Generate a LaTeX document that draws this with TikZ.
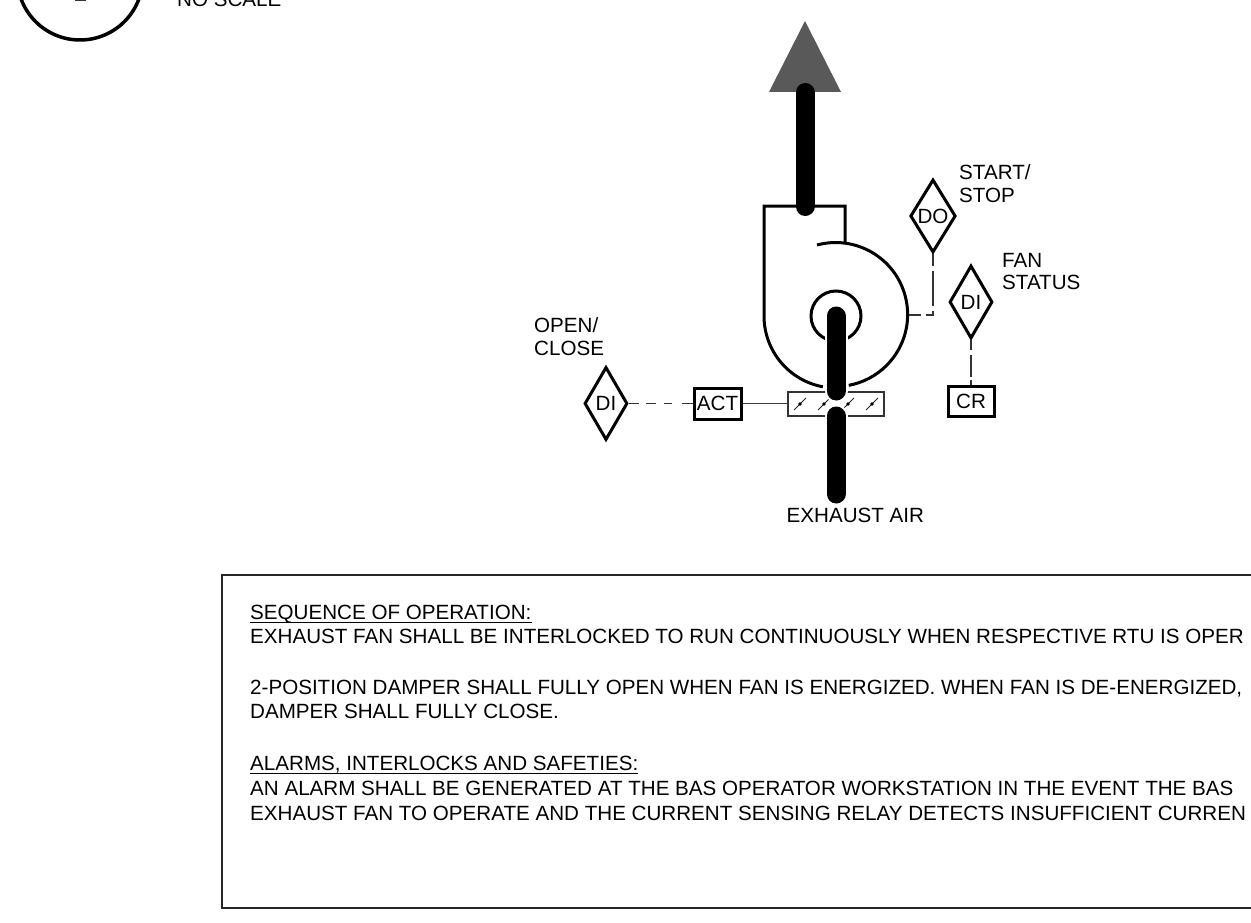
\documentclass[tikz,border=0pt]{standalone}
\usepackage{fontspec}
\setmainfont{Liberation Sans}
\usetikzlibrary{shapes.geometric}
\tikzset{
  x=1pt,y=-1pt,
  heavy/.style={line width=3pt,draw=black},
  thin line/.style={line width=1.4pt,draw=black!75},
  duct/.style={line width=19pt,draw=black,line cap=round},
  halo/.style={line width=23pt,draw=white,line cap=round},
  signal/.style={line width=1.3pt,draw=black!80},
  lbl/.style={anchor=base west,inner sep=0pt,font=\fontsize{20.6}{24}\selectfont},
  point/.style={diamond,heavy,inner sep=0pt,minimum width=43pt,minimum height=73pt,font=\fontsize{20.6}{24}\selectfont},
  devbox/.style={heavy,fill=white,inner sep=0pt,font=\fontsize{20.6}{24}\selectfont},
  blade/.style={line width=1pt,draw=black!85},
  underl/.style={line width=1.8pt,draw=black}
}
\begin{document}
\begin{tikzpicture}
\useasboundingbox (0,0) rectangle (1251,923);
\clip (0,0) rectangle (1251,923);
% detail symbol
\draw[line width=3.5pt] (80,-22.8) circle (62.8);
\fill[black!80] (75,-2) rectangle (86,1.2);
\node[lbl] (noscale) at (177,6.5) {NO SCALE};
% arrow
\fill[black!65] (805,21) -- (841,92) -- (769,92) -- cycle;
% damper
\node[draw=black!80,line width=1.2pt,minimum width=96pt,minimum height=24pt,inner sep=0pt] (damper) at (836,404) {};
\foreach \bx in {800,824,848,872}{
  \draw[blade] (\bx-6,410) -- (\bx+6,398);
  \fill (\bx,404) circle (1.8);
}
% fan
\draw[heavy] (845,243) -- (845,206) -- (764,206) -- (764,316)
  arc[start angle=180,end angle=100.5,radius=72];
\draw[heavy] (817,245) arc[start angle=-105,end angle=79.5,radius=72];
\draw[heavy] (836,316) circle (25);
% ducts
\draw[duct] (805,92.5) -- (805,206.5);
\draw[halo] (836,316) -- (836,391);
\draw[duct] (836,316) -- (836,391);
\draw[halo] (836,416) -- (836,494);
\draw[duct] (836,416) -- (836,494);
% nodes
\node[point] (dileft) at (606,403.5) {DI};
\node[devbox,minimum width=47pt,minimum height=31pt] (act) at (717.5,403.5) {ACT};
\node[point] (do) at (933,216) {DO};
\node[point] (dicr) at (971,302) {DI};
\node[devbox,minimum width=46pt,minimum height=30pt] (cr) at (971,401) {CR};
\coordinate (fanside) at (908.5,315);
\coordinate (bend) at (933,315);
% connectors
\draw[signal,dash pattern=on 10pt off 7pt on 10pt off 8pt on 8pt off 10pt on 14pt] (dileft.east) -- (act.west);
\draw[thin line] (act.east) -- (act.east -| damper.west);
\draw[signal,dash pattern=on 12pt off 5pt on 35pt off 5pt on 11pt off 5pt on 15pt off 1pt] (do.south) -- (bend) -- (fanside);
\draw[signal,dash pattern=on 10pt off 5pt on 22pt off 3pt on 8pt off 1pt] (dicr.south) -- (cr.north);
% labels
\node[lbl] (l1) at (959,179) {START/};
\node[lbl] (l2) at (959,203) {STOP};
\node[lbl] (l3) at (1002,267) {FAN};
\node[lbl] (l4) at (1002,289.5) {STATUS};
\node[lbl] (l5) at (534,332) {OPEN/};
\node[lbl] (l6) at (534,355) {CLOSE};
\node[lbl] (l7) at (786.5,522) {EXHAUST AIR};
% notes box
\draw[line width=1.1pt,draw=black!85] (1260,575) -- (222,575) -- (222,908) -- (1260,908);
\node[lbl] (t1) at (250,619) {SEQUENCE OF OPERATION:};
\node[lbl] (t2) at (250,643) {EXHAUST FAN SHALL BE INTERLOCKED TO RUN CONTINUOUSLY WHEN RESPECTIVE RTU IS OPER};
\node[lbl] (t3) at (250,694) {2-POSITION DAMPER SHALL FULLY OPEN WHEN FAN IS ENERGIZED. WHEN FAN IS DE-ENERGIZED,};
\node[lbl] (t4) at (250,718) {DAMPER SHALL FULLY CLOSE.};
\node[lbl] (t5) at (250,770) {ALARMS, INTERLOCKS AND SAFETIES:};
\node[lbl] (t6) at (250,795) {AN ALARM SHALL BE GENERATED AT THE BAS OPERATOR WORKSTATION IN THE EVENT THE BAS};
\node[lbl] (t7) at (250,820) {EXHAUST FAN TO OPERATE AND THE CURRENT SENSING RELAY DETECTS INSUFFICIENT CURREN};
\draw[underl] ([yshift=-3.5pt]t1.base west) -- ([yshift=-3.5pt]t1.base east);
\draw[underl] ([yshift=-3.5pt]t5.base west) -- ([yshift=-3.5pt]t5.base east);
\end{tikzpicture}
\end{document}
